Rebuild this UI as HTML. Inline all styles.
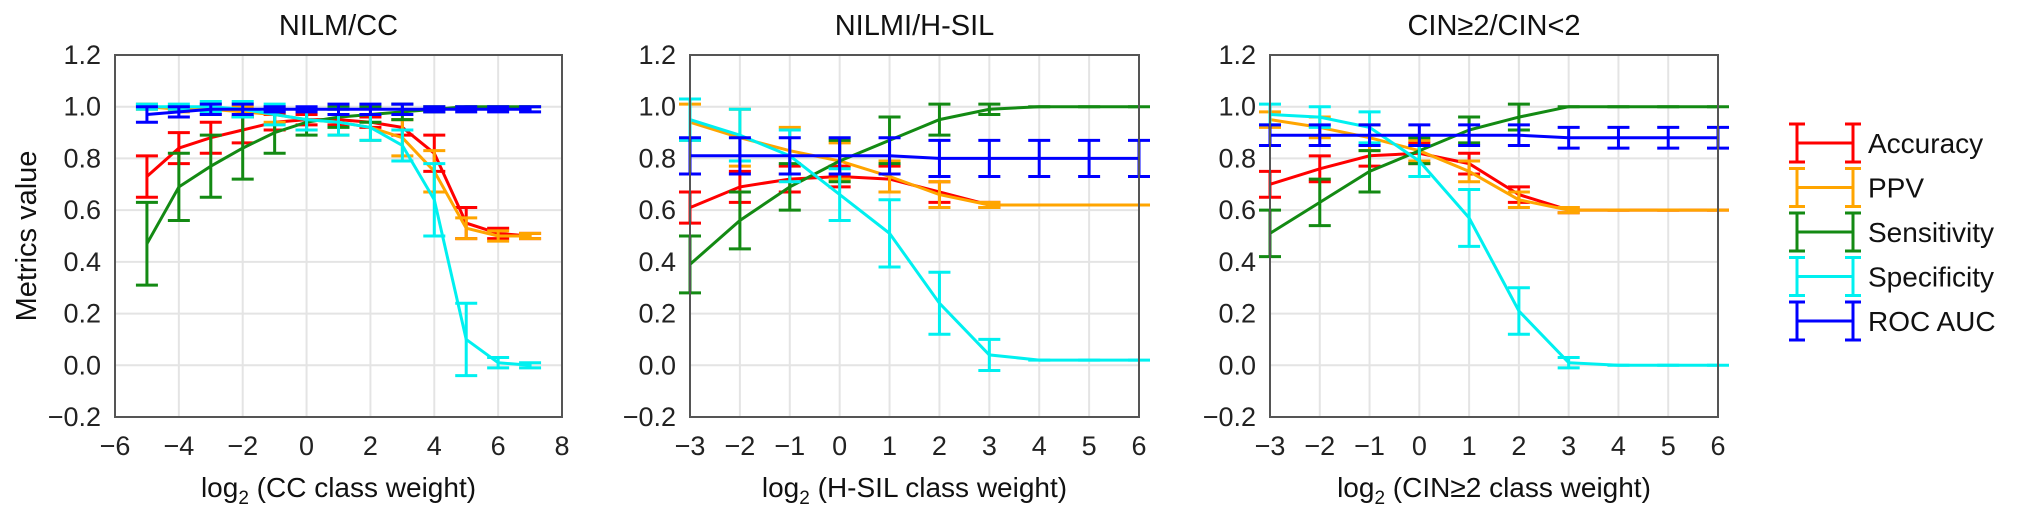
<!DOCTYPE html>
<html><head><meta charset="utf-8"><style>
html,body{margin:0;padding:0;background:#fff;}
svg{display:block;font-family:"Liberation Sans","Noto Sans CJK SC",sans-serif;}
</style></head><body>
<svg id="chart" width="2032" height="518" viewBox="0 0 2032 518"></svg>
<script>
// Panel 1: NILM/CC
const p1X = [-5,-4,-3,-2,-1,0,1,2,3,4,5,6,7];
const p1Acc = [0.73,0.84,0.88,0.91,0.94,0.95,0.95,0.94,0.92,0.82,0.55,0.51,0.50];
const p1AccE = [0.08,0.06,0.06,0.05,0.03,0.02,0.02,0.02,0.03,0.07,0.06,0.02,0.01];
const p1Ppv = [1.0,0.99,0.99,0.98,0.97,0.95,0.94,0.92,0.88,0.75,0.53,0.50,0.50];
const p1PpvE = [0.01,0.01,0.02,0.02,0.03,0.04,0.05,0.05,0.07,0.08,0.04,0.02,0.01];
const p1Sen = [0.47,0.69,0.77,0.84,0.90,0.94,0.96,0.97,0.98,0.99,1.0,1.0,1.0];
const p1SenE = [0.16,0.13,0.12,0.12,0.08,0.05,0.04,0.03,0.03,0.01,0.0,0.0,0.0];
const p1Spe = [1.0,1.0,1.0,0.99,0.97,0.95,0.94,0.92,0.85,0.64,0.10,0.01,0.0];
const p1SpeE = [0.01,0.01,0.02,0.03,0.04,0.04,0.05,0.05,0.06,0.14,0.14,0.02,0.01];
const p1Roc = [0.97,0.98,0.99,0.99,0.99,0.99,0.99,0.99,0.99,0.99,0.99,0.99,0.99];
const p1RocE = [0.03,0.02,0.02,0.02,0.01,0.01,0.02,0.02,0.02,0.01,0.01,0.01,0.01];
// Panel 2: NILMI/H-SIL
const p2X = [-3,-2,-1,0,1,2,3,4,5,6];
const p2Acc = [0.61,0.69,0.72,0.73,0.72,0.67,0.62,0.62,0.62,0.62];
const p2AccE = [0.06,0.06,0.05,0.04,0.05,0.04,0.01,0.0,0.0,0.0];
const p2Ppv = [0.94,0.88,0.83,0.79,0.73,0.66,0.62,0.62,0.62,0.62];
const p2PpvE = [0.07,0.11,0.09,0.07,0.06,0.05,0.01,0.0,0.0,0.0];
const p2Sen = [0.39,0.56,0.69,0.79,0.87,0.95,0.99,1.0,1.0,1.0];
const p2SenE = [0.11,0.11,0.09,0.08,0.09,0.06,0.02,0.0,0.0,0.0];
const p2Spe = [0.95,0.89,0.81,0.66,0.51,0.24,0.04,0.02,0.02,0.02];
const p2SpeE = [0.08,0.1,0.1,0.1,0.13,0.12,0.06,0.0,0.0,0.0];
const p2Roc = [0.81,0.81,0.81,0.81,0.81,0.80,0.80,0.80,0.80,0.80];
const p2RocE = [0.07,0.07,0.07,0.07,0.07,0.07,0.07,0.07,0.07,0.07];
// Panel 3: CIN>=2/CIN<2
const p3X = [-3,-2,-1,0,1,2,3,4,5,6];
const p3Acc = [0.70,0.76,0.81,0.82,0.78,0.66,0.60,0.60,0.60,0.60];
const p3AccE = [0.05,0.05,0.04,0.04,0.04,0.03,0.01,0.0,0.0,0.0];
const p3Ppv = [0.95,0.92,0.88,0.83,0.75,0.64,0.60,0.60,0.60,0.60];
const p3PpvE = [0.03,0.04,0.05,0.04,0.04,0.03,0.01,0.0,0.0,0.0];
const p3Sen = [0.51,0.63,0.75,0.83,0.91,0.96,1.0,1.0,1.0,1.0];
const p3SenE = [0.09,0.09,0.08,0.05,0.05,0.05,0.0,0.0,0.0,0.0];
const p3Spe = [0.97,0.96,0.92,0.79,0.57,0.21,0.01,0.0,0.0,0.0];
const p3SpeE = [0.04,0.04,0.06,0.06,0.11,0.09,0.02,0.0,0.0,0.0];
const p3Roc = [0.89,0.89,0.89,0.89,0.89,0.89,0.88,0.88,0.88,0.88];
const p3RocE = [0.04,0.04,0.04,0.04,0.04,0.04,0.04,0.04,0.04,0.04];
const yTicks = [-0.2,0,0.2,0.4,0.6,0.8,1.0,1.2];
const p1XTicks = [-6,-4,-2,0,2,4,6,8];
const p23XTicks = [-3,-2,-1,0,1,2,3,4,5,6];
const legendLabels = ["Accuracy","PPV","Sensitivity","Specificity","ROC AUC"];

const colors = ["#ff0000","#ffa500","#138a13","#00f0f0","#0000ff"];
const NS = "http://www.w3.org/2000/svg";
const svg = document.getElementById("chart");
function mk(tag, attrs, parent){
  const e = document.createElementNS(NS, tag);
  for (const k in attrs) e.setAttribute(k, attrs[k]);
  (parent||svg).appendChild(e);
  return e;
}
const panels = [
  {title:"NILM/CC", xlab:"CC class weight", x0:115, x1:562, xmin:-6, xmax:8, xs:p1X, ticks:p1XTicks,
   series:[[p1Acc,p1AccE],[p1Ppv,p1PpvE],[p1Sen,p1SenE],[p1Spe,p1SpeE],[p1Roc,p1RocE]], ylab:true},
  {title:"NILMI/H-SIL", xlab:"H-SIL class weight", x0:690, x1:1139, xmin:-3, xmax:6, xs:p2X, ticks:p23XTicks,
   series:[[p2Acc,p2AccE],[p2Ppv,p2PpvE],[p2Sen,p2SenE],[p2Spe,p2SpeE],[p2Roc,p2RocE]]},
  {title:"CIN≥2/CIN<2", xlab:"CIN≥2 class weight", x0:1270, x1:1718, xmin:-3, xmax:6, xs:p3X, ticks:p23XTicks,
   series:[[p3Acc,p3AccE],[p3Ppv,p3PpvE],[p3Sen,p3SenE],[p3Spe,p3SpeE],[p3Roc,p3RocE]]}
];
const Y0 = 55, Y1 = 417, YMIN = -0.2, YMAX = 1.2;
const yS = v => Y1 - (v - YMIN) / (YMAX - YMIN) * (Y1 - Y0);
const fmt = v => (v < 0 ? "\u2212" : "") + Math.abs(v).toFixed(1);
const fmtI = v => (v < 0 ? "\u2212" : "") + Math.abs(v);

panels.forEach((p, pi) => {
  const xS = v => p.x0 + (v - p.xmin) / (p.xmax - p.xmin) * (p.x1 - p.x0);
  const g = mk("g", {});
  
  
  // grid
  yTicks.forEach(t => {
    const l = mk("line", {x1:p.x0, x2:p.x1, y1:yS(t), y2:yS(t), stroke:"#e4e4e4", "stroke-width":2}, g);
    
    
    const tx = mk("text", {x:p.x0-14, y:yS(t)+9, "text-anchor":"end", "font-size":27, fill:"#222"}, g);
    tx.textContent = fmt(t);
    
    
  });
  p.ticks.forEach(t => {
    const l = mk("line", {x1:xS(t), x2:xS(t), y1:Y0, y2:Y1, stroke:"#e4e4e4", "stroke-width":2}, g);
    
    
    const tx = mk("text", {x:xS(t), y:455, "text-anchor":"middle", "font-size":27, fill:"#222"}, g);
    tx.textContent = fmtI(t);
    
    
  });
  // series
  p.series.forEach((s, si) => {
    const [m, e] = s;
    const sg = mk("g", {stroke:colors[si], "stroke-width":3, fill:"none"}, g);
    
    
    const pts = p.xs.map((x, i) => xS(x).toFixed(1) + "," + yS(m[i]).toFixed(1)).join(" ");
    const pl = mk("polyline", {points:pts}, sg);
    
    
    p.xs.forEach((x, i) => {
      const cx = xS(x), lo = yS(m[i]-e[i]), hi = yS(m[i]+e[i]), w = 11;
      const eb = mk("path", {d:`M${cx},${lo}V${hi}M${cx-w},${lo}H${cx+w}M${cx-w},${hi}H${cx+w}`}, sg);
      
      
    });
  });
  const fr = mk("rect", {x:p.x0, y:Y0, width:p.x1-p.x0, height:Y1-Y0, fill:"none", stroke:"#555", "stroke-width":2}, g);
  
  
  const tt = mk("text", {x:(p.x0+p.x1)/2, y:35, "text-anchor":"middle", "font-size":29, fill:"#111"}, g);
  tt.textContent = p.title;
  
  
  const xl = mk("text", {x:(p.x0+p.x1)/2, y:497, "text-anchor":"middle", "font-size":28, fill:"#111"}, g);
  xl.innerHTML = 'log<tspan font-size="19" dy="7">2</tspan><tspan dy="-7"> (' + p.xlab.replace('<','&lt;') + ')</tspan>';
  
  
  if (p.ylab) {
    const yl = mk("text", {x:0, y:0, transform:"translate(36,236) rotate(-90)", "text-anchor":"middle", "font-size":29, fill:"#111"}, g);
    yl.textContent = "Metrics value";
    
    
  }
});
// legend
legendLabels.forEach((lab, i) => {
  const y = 143 + i*44.5;
  const lg = mk("g", {}, svg);
  
  
  const x0 = 1797, x1 = 1853, c = colors[i];
  mk("path", {d:`M${x0},${y-19}V${y+19}M${x1},${y-19}V${y+19}M${x0},${y}H${x1}M${x0-8},${y-19}H${x0+8}M${x0-8},${y+19}H${x0+8}M${x1-8},${y-19}H${x1+8}M${x1-8},${y+19}H${x1+8}`, stroke:c, "stroke-width":3, fill:"none"}, lg);
  const t = mk("text", {x:1868, y:y+10, "font-size":28, fill:"#111"}, lg);
  t.textContent = lab;
});
</script>
</body></html>
